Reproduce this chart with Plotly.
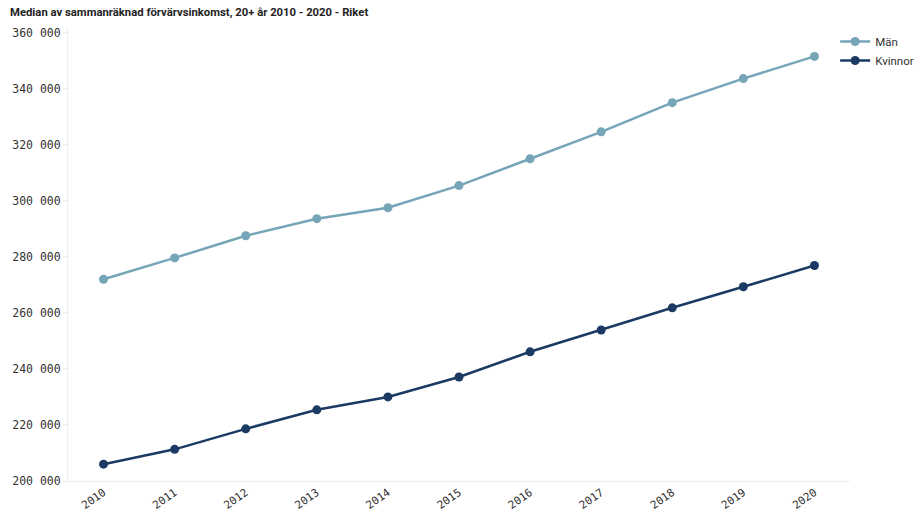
import plotly.graph_objects as go

years = [2010, 2011, 2012, 2013, 2014, 2015, 2016, 2017, 2018, 2019, 2020]
man = [272000, 279600, 287500, 293600, 297500, 305400, 315000, 324600, 335000, 343600, 351500]
kvinnor = [206000, 211300, 218600, 225400, 230000, 237100, 246100, 253900, 261800, 269300, 276900]
title = "Median av sammanräknad förvärvsinkomst, 20+ år 2010 - 2020 - Riket"
ytickvals = [200000, 220000, 240000, 260000, 280000, 300000, 320000, 340000, 360000]

fig = go.Figure()
fig.add_trace(go.Scatter(x=years, y=man, name="Män", mode="lines+markers",
                         line=dict(color="#76a5b7", width=2.5),
                         marker=dict(size=9, color="#76a5b7")))
fig.add_trace(go.Scatter(x=years, y=kvinnor, name="Kvinnor", mode="lines+markers",
                         line=dict(color="#1b3a63", width=2.5),
                         marker=dict(size=9, color="#1b3a63")))

mono = "DejaVu Sans Mono"
fig.update_layout(
    width=914, height=511,
    margin=dict(l=68, r=64, t=27, b=30, autoexpand=False),
    paper_bgcolor="white", plot_bgcolor="white",
    separators=", ",
    showlegend=True,
    legend=dict(x=0.981, xanchor="left", y=1.0, yanchor="top", itemwidth=30,
                font=dict(family="Roboto", size=11.5, color="#333"),
                bgcolor="rgba(0,0,0,0)", tracegroupgap=0),
    xaxis=dict(range=[2009.5, 2020.5], tickvals=years, ticktext=[str(y) for y in years],
               tickangle=-35, showgrid=False, zeroline=False, automargin=False,
               showline=True, linecolor="#eeeeee", linewidth=1,
               ticks="", tickfont=dict(family=mono, size=11, color="#333")),
    yaxis=dict(range=[200000, 362000], tickvals=ytickvals, tickformat=",d",
               showgrid=False, zeroline=False, automargin=False,
               showline=True, linecolor="#eeeeee", linewidth=1,
               ticks="outside", ticklen=4, tickcolor="#eeeeee",
               tickfont=dict(family=mono, size=11.5, color="#333")),
    annotations=[dict(text="<b>" + title + "</b>", xref="paper", yref="paper",
                      x=(8 - 68) / 782, y=(481 - 12) / 454, xanchor="left", yanchor="middle",
                      showarrow=False, font=dict(family="Roboto", size=11.3, color="#222"))],
)

fig.write_html("out.html", config={"displayModeBar": False},
               post_script="document.body.style.margin='0px';")
